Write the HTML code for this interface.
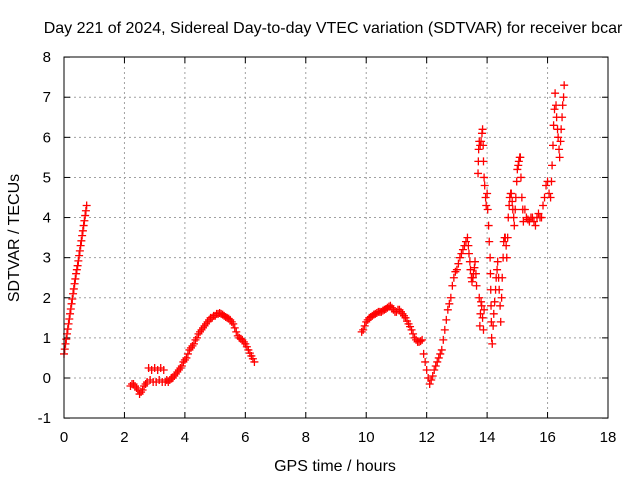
<!DOCTYPE html>
<html><head><meta charset="utf-8"><style>
body{margin:0;background:#fff}
svg{display:block;font-family:"Liberation Sans",sans-serif}
</style></head><body>
<svg id="c" width="640" height="480">
<text x="333" y="33" text-anchor="middle" font-size="16">Day 221 of 2024, Sidereal Day-to-day VTEC variation (SDTVAR) for receiver bcar</text>
<text x="335" y="471" text-anchor="middle" font-size="16">GPS time / hours</text>
<text transform="translate(19,238) rotate(-90)" text-anchor="middle" font-size="16">SDTVAR / TECUs</text>
<g id="grid"></g><g id="ticks"></g><g id="series"></g>
<rect x="64" y="57" width="544" height="361" fill="none" stroke="#000"/>
</svg>
<script>
const xTicks=[0,2,4,6,8,10,12,14,16,18];
const yTicks=[-1,0,1,2,3,4,5,6,7,8];
const seg1T=[0,0.025,0.05,0.075,0.1,0.125,0.15,0.175,0.2,0.225,0.25,0.275,0.3,0.325,0.35,0.375,0.4,0.425,0.45,0.475,0.5,0.525,0.55,0.575,0.6,0.625,0.65,0.675,0.7,0.725,0.75];
const seg1V=[0.6,0.72,0.85,0.97,1.1,1.22,1.35,1.47,1.6,1.72,1.85,1.97,2.1,2.22,2.35,2.47,2.6,2.7,2.8,2.92,3.05,3.17,3.3,3.42,3.55,3.67,3.8,3.92,4.05,4.17,4.3];
const seg2T=[2.2,2.25,2.3,2.35,2.4,2.45,2.5,2.55,2.6,2.65,2.7,2.75,2.8,2.85,2.9,2.95,3.0,3.05,3.1,3.15,3.2,3.25,3.3,3.35,3.4,3.45,3.5,3.55,3.6,3.65,3.7,3.75,3.8,3.85,3.9,3.95,4.0,4.05,4.1,4.15,4.2,4.25,4.3,4.35,4.4,4.45,4.5,4.55,4.6,4.65,4.7,4.75,4.8,4.85,4.9,4.95,5.0,5.05,5.1,5.15,5.2,5.25,5.3,5.35,5.4,5.45,5.5,5.55,5.6,5.65,5.7,5.75,5.8,5.85,5.9,5.95,6.0,6.05,6.1,6.15,6.2,6.25,6.3];
const seg2V=[-0.2,-0.15,-0.15,-0.2,-0.25,-0.3,-0.4,-0.35,-0.3,-0.2,-0.15,-0.1,0.25,-0.05,0.2,-0.1,0.25,-0.1,0.2,-0.05,0.25,-0.1,0.2,-0.1,-0.05,-0.1,-0.05,0.0,0.0,0.05,0.1,0.15,0.2,0.25,0.3,0.4,0.45,0.5,0.6,0.7,0.75,0.8,0.85,0.95,1.0,1.1,1.15,1.2,1.25,1.3,1.35,1.4,1.45,1.5,1.5,1.55,1.55,1.6,1.6,1.62,1.6,1.58,1.55,1.52,1.5,1.48,1.45,1.4,1.35,1.25,1.15,1.05,1.0,0.98,0.95,0.9,0.85,0.78,0.7,0.62,0.55,0.48,0.4];
const seg3T=[9.85,9.9,9.95,10.0,10.05,10.1,10.15,10.2,10.25,10.3,10.35,10.4,10.45,10.5,10.55,10.6,10.65,10.7,10.75,10.8,10.85,10.9,10.95,11.0,11.05,11.1,11.15,11.2,11.25,11.3,11.35,11.4,11.45,11.5,11.55,11.6,11.65,11.7,11.75,11.8,11.85,11.9,11.95,12.0,12.05,12.1,12.15,12.2,12.25,12.3,12.35,12.4,12.45,12.5,12.55,12.6,12.65,12.7,12.75,12.8,12.85,12.9,12.95,13.0,13.05,13.1,13.15,13.2,13.25,13.3,13.35,13.38,13.4,13.43,13.45,13.48,13.5,13.53,13.55,13.58,13.6,13.63,13.65];
const seg3V=[1.15,1.2,1.3,1.4,1.45,1.5,1.52,1.55,1.58,1.6,1.62,1.65,1.65,1.65,1.68,1.7,1.72,1.75,1.78,1.8,1.75,1.7,1.65,1.65,1.7,1.7,1.65,1.6,1.55,1.5,1.42,1.35,1.28,1.2,1.1,1.0,0.95,0.9,0.9,0.92,0.95,0.6,0.4,0.2,0.0,-0.15,-0.05,0.05,0.2,0.3,0.4,0.5,0.6,0.7,0.95,1.2,1.45,1.7,1.85,2.0,2.3,2.5,2.65,2.7,2.85,3.0,3.1,3.2,3.3,3.4,3.5,3.3,3.1,2.9,2.7,2.5,2.4,2.5,2.6,2.75,2.9,2.6,2.3];
const seg4T=[13.7,13.71,13.72,13.74,13.77,13.8,13.83,13.85,13.87,13.88,13.9,13.92,13.95,13.97,14.0,14.02,14.05,14.07,14.1,14.11,14.12,14.13,14.14,14.15,14.17,13.74,13.76,13.78,13.8,13.82,13.85,13.88,13.9,14.2,14.22,14.25,14.28,14.3,14.33,14.35,14.38,14.4,14.43,14.45,14.48,14.5,14.53,14.55,14.58,14.6,14.63,14.65,14.68,14.7,14.73,14.75,14.78,14.8,14.83,14.85,14.88,14.9,14.93,14.95,14.98,15.0,15.03,15.05,15.08,15.1,15.12,15.15,15.18,15.2,15.25,15.3,15.35,15.4,15.45,15.5,15.55,15.6,15.65,15.7,15.75,15.8,15.85,15.9,15.95,16.0,16.05,16.1,16.13,16.15,16.18,16.2,16.23,16.25,16.28,16.3,16.33,16.35,16.38,16.4,16.43,16.45,16.48,16.5,16.53,16.55];
const seg4V=[5.1,5.4,5.7,5.9,5.8,5.9,6.1,6.2,5.8,5.4,5.0,4.8,4.5,4.3,4.6,4.2,3.8,3.4,3.0,2.6,2.2,1.8,1.4,1.0,0.85,2.0,1.3,1.6,1.9,1.8,1.5,1.2,1.7,1.3,1.6,1.9,2.2,2.5,2.7,2.9,2.5,2.2,1.8,1.4,2.0,2.5,3.0,3.4,3.5,3.5,3.3,3.0,3.5,4.0,4.3,4.5,4.6,4.6,4.4,4.2,4.0,3.8,4.2,4.5,4.9,5.2,5.3,5.4,5.5,5.5,5.0,4.5,4.2,3.9,4.2,4.0,3.95,3.9,4.0,4.0,3.9,3.8,4.0,4.1,4.0,4.0,4.3,4.5,4.8,4.9,4.6,4.5,4.9,5.3,5.8,6.3,6.7,7.1,6.8,6.5,6.2,6.0,5.7,5.5,5.9,6.2,6.5,6.8,7.0,7.3];
const NS='http://www.w3.org/2000/svg';
const X=t=>64+t*544/18, Y=v=>378-v*361/9;
function mk(tag,attrs,parent){const e=document.createElementNS(NS,tag);for(const k in attrs)e.setAttribute(k,attrs[k]);parent.appendChild(e);return e;}
const grid=document.getElementById('grid'),ticks=document.getElementById('ticks'),series=document.getElementById('series');
xTicks.forEach(t=>{
  if(t>0&&t<18){const g=mk('line',{x1:X(t),x2:X(t),y1:57,y2:418,stroke:'#a0a0a0','stroke-dasharray':'2,3'},grid);
  
  }
  mk('line',{x1:X(t),x2:X(t),y1:418,y2:412,stroke:'#000'},ticks);
  mk('line',{x1:X(t),x2:X(t),y1:57,y2:63,stroke:'#000'},ticks);
  const l=mk('text',{x:X(t),y:442,'text-anchor':'middle','font-size':15},ticks);l.textContent=t;
  
  
});
yTicks.forEach(v=>{
  if(v>-1&&v<8){const g=mk('line',{x1:64,x2:608,y1:Y(v),y2:Y(v),stroke:'#a0a0a0','stroke-dasharray':'2,3'},grid);
  
  }
  mk('line',{x1:64,x2:70,y1:Y(v),y2:Y(v),stroke:'#000'},ticks);
  mk('line',{x1:602,x2:608,y1:Y(v),y2:Y(v),stroke:'#000'},ticks);
  const l=mk('text',{x:51,y:Y(v)+5,'text-anchor':'end','font-size':15},ticks);l.textContent=v;
  
  
});
[[seg1T,seg1V],[seg2T,seg2V],[seg3T,seg3V],[seg4T,seg4V]].forEach(([T,V])=>{
  T.forEach((t,i)=>{
    const x=X(t),y=Y(V[i]);
    const p=mk('path',{d:`M${x-4},${y}H${x+4}M${x},${y-4}V${y+4}`,stroke:'#f00','stroke-width':1.3},series);
    
    
  });
});
</script>
</body></html>
